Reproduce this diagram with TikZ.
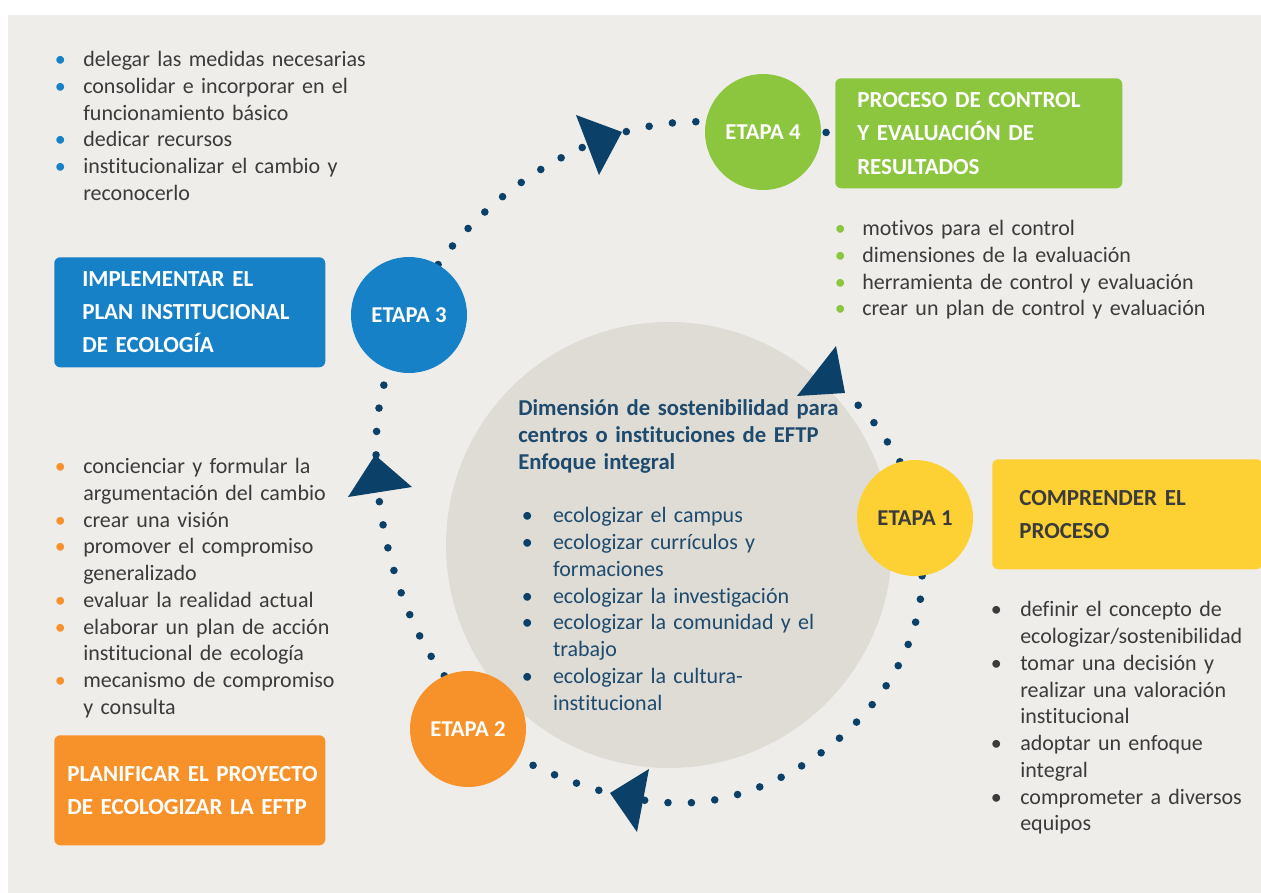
\documentclass[tikz,border=0pt]{standalone}
\usepackage{fontspec}
\setmainfont{Carlito}[Ligatures={NoCommon}]
\setlength{\parindent}{0pt}
\definecolor{bgc}{HTML}{EEEDEA}
\definecolor{corec}{HTML}{DEDCD5}
\definecolor{navy}{HTML}{0B4068}
\definecolor{ctext}{HTML}{1E4A6D}
\definecolor{txt}{HTML}{3B3B3B}
\definecolor{cblue}{HTML}{1681C7}
\definecolor{cgreen}{HTML}{8CC63F}
\definecolor{cyellow}{HTML}{FDD133}
\definecolor{corange}{HTML}{F7922B}
\newlength\itind
\newcommand\bl[1]{\makebox[0pt][c]{\textcolor{#1}{\textbullet}}\hspace{\itind}}
\newcommand\cl{\hspace*{\itind}}
\newcommand\fl{\rule{0pt}{15pt}}
\pgfdeclarelayer{back}
\pgfsetlayers{back,main}
\begin{document}
\begin{tikzpicture}[x=0.75pt,y=-0.75pt,
  dotline/.style={draw=navy, line width=5.7pt, line cap=round, dash pattern=on 0pt off 17.6pt},
  etapa/.style={circle, minimum size=87pt, inner sep=0pt, font=\fontsize{17}{20}\selectfont\bfseries},
  hbox/.style={rounded corners=4.5pt, minimum height=82.5pt, inner ysep=0pt, align=left, anchor=north west, text=white, font=\fontsize{17.25}{25}\selectfont\bfseries},
  list/.style={anchor=north west, inner sep=0pt, align=left, text width=300pt, font=\fontsize{16.5}{20.05}\selectfont, text=txt},
  dotnode/.style={circle, fill=navy, inner sep=0pt, minimum size=5.7pt},
  arrowtri/.style={fill=navy}]
\path[use as bounding box] (0,0) rectangle (1261,893);
\begin{pgfonlayer}{back}
\fill[white] (0,0) rectangle (1261,893);
\fill[bgc] (8,15) rectangle (1261,893);
\node[circle, fill=corec, minimum size=334.5pt, inner sep=0pt] (core) at (669,545) {};
\end{pgfonlayer}

% stages
\node[etapa, fill=cyellow, text=txt] (e1) at (915,518) {ETAPA 1};
\node[etapa, fill=corange, text=white] (e2) at (468,729) {ETAPA 2};
\node[etapa, fill=cblue, text=white] (e3) at (409,315) {ETAPA 3};
\node[etapa, fill=cgreen, text=white] (e4) at (763,132) {ETAPA 4};

% heading boxes
\node[hbox, fill=cgreen, minimum width=215.25pt, text width=182.25pt, inner xsep=16.5pt] (g4) at (835,78)
  {\mbox{PROCESO DE CONTROL}\\\mbox{Y EVALUACIÓN DE}\\\mbox{RESULTADOS}};
\node[hbox, fill=cblue, minimum width=203.25pt, text width=161.25pt, inner xsep=21pt] (b3) at (54,257)
  {\mbox{IMPLEMENTAR EL}\\\mbox{PLAN INSTITUCIONAL}\\\mbox{DE ECOLOGÍA}};
\node[hbox, fill=cyellow, text=txt, minimum width=202.5pt, text width=162pt, inner xsep=20.25pt] (y1) at (992,459)
  {\mbox{COMPRENDER EL}\\\mbox{PROCESO}};
\node[hbox, fill=corange, minimum width=203.25pt, text width=183.75pt, inner xsep=9.75pt] (o2) at (54,735)
  {\mbox{PLANIFICAR EL PROYECTO}\\\mbox{DE ECOLOGIZAR LA EFTP}};

% lists
\node[list] (l3) at (60,46.5) {\setlength\itind{17.25pt}\fl\bl{cblue}delegar las medidas necesarias\\
\bl{cblue}consolidar e incorporar en el\\
\cl funcionamiento básico\\
\bl{cblue}dedicar recursos\\
\bl{cblue}institucionalizar el cambio y\\
\cl reconocerlo};

\node[list] (l4) at (840,215.5) {\setlength\itind{16.5pt}\fl\bl{cgreen}motivos para el control\\
\bl{cgreen}dimensiones de la evaluación\\
\bl{cgreen}herramienta de control y evaluación\\
\bl{cgreen}crear un plan de control y evaluación};

\node[list] (l2) at (60,453.5) {\setlength\itind{17.25pt}\fl\bl{corange}concienciar y formular la\\
\cl argumentación del cambio\\
\bl{corange}crear una visión\\
\bl{corange}promover el compromiso\\
\cl generalizado\\
\bl{corange}evaluar la realidad actual\\
\bl{corange}elaborar un plan de acción\\
\cl institucional de ecología\\
\bl{corange}mecanismo de compromiso\\
\cl y consulta};

\node[list] (l1) at (996,596.7) {\setlength\itind{18pt}\fl\bl{txt}definir el concepto de\\
\cl ecologizar/sostenibilidad\\
\bl{txt}tomar una decisión y\\
\cl realizar una valoración\\
\cl institucional\\
\bl{txt}adoptar un enfoque\\
\cl integral\\
\bl{txt}comprometer a diversos\\
\cl equipos};

\node[list, text=ctext, font=\fontsize{17}{20.25}\selectfont\bfseries] (ctitle) at (518,395.5)
  {\fl Dimensión de sostenibilidad para\\
  centros o instituciones de EFTP\\
  Enfoque integral};

\node[list, text=ctext] (clist) at (527,502.7) {\setlength\itind{19.3pt}\fl\bl{navy}ecologizar el campus\\
\bl{navy}ecologizar currículos y\\
\cl formaciones\\
\bl{navy}ecologizar la investigación\\
\bl{navy}ecologizar la comunidad y el\\
\cl trabajo\\
\bl{navy}ecologizar la cultura-\\
\cl institucional};

% dotted connectors
\coordinate (a1end) at (846,393);
\begin{pgfonlayer}{back}
\draw[dotline] (e1.-83) .. controls (921,700) and (790,803) .. (681,803)
  .. controls (625,803) and (565,782) .. (e2.-30);
\draw[dotline] (e2.114) .. controls (380,590) and (360,440) .. (e3.-110);
\draw[dotline] (e3.60) .. controls (495,185) and (600,118) .. (e4.170);
\draw[dotline] (e1.105) .. controls (875,422) .. (a1end);
\end{pgfonlayer}
\path (e4.east) -- node[pos=0.35, dotnode] {} (g4.west);

% arrow heads
\fill[arrowtri] (576,115) -- (622,132) -- (599,175) -- cycle;
\fill[arrowtri] (836,346) -- (797,396) -- (845,393) -- cycle;
\fill[arrowtri] (375,455) -- (348,497) -- (412,487) -- cycle;
\fill[arrowtri] (610,793) -- (649,769) -- (637,832) -- cycle;
\end{tikzpicture}
\end{document}
